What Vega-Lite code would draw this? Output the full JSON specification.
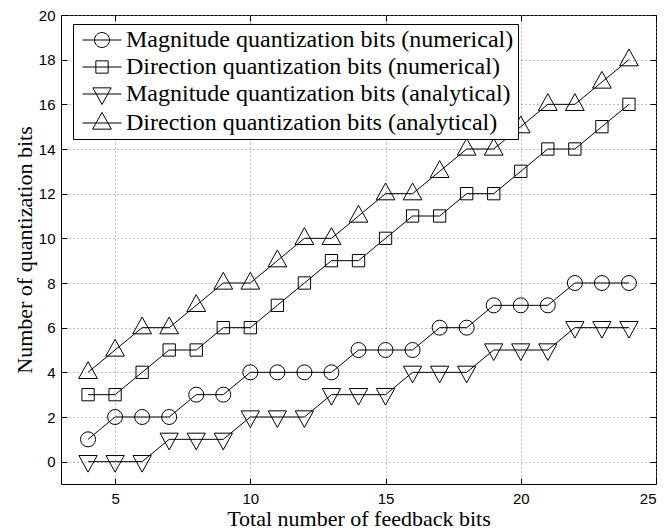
{
  "$schema": "https://vega.github.io/schema/vega-lite/v6.json",
  "width": 595,
  "height": 469,
  "autosize": {"type": "none"},
  "padding": {"left": 61, "top": 15, "right": 11, "bottom": 45},
  "background": "white",
  "data": {
    "values": [
      {"x": 4, "y": 1, "series": "Magnitude quantization bits (numerical)"},
      {"x": 5, "y": 2, "series": "Magnitude quantization bits (numerical)"},
      {"x": 6, "y": 2, "series": "Magnitude quantization bits (numerical)"},
      {"x": 7, "y": 2, "series": "Magnitude quantization bits (numerical)"},
      {"x": 8, "y": 3, "series": "Magnitude quantization bits (numerical)"},
      {"x": 9, "y": 3, "series": "Magnitude quantization bits (numerical)"},
      {"x": 10, "y": 4, "series": "Magnitude quantization bits (numerical)"},
      {"x": 11, "y": 4, "series": "Magnitude quantization bits (numerical)"},
      {"x": 12, "y": 4, "series": "Magnitude quantization bits (numerical)"},
      {"x": 13, "y": 4, "series": "Magnitude quantization bits (numerical)"},
      {"x": 14, "y": 5, "series": "Magnitude quantization bits (numerical)"},
      {"x": 15, "y": 5, "series": "Magnitude quantization bits (numerical)"},
      {"x": 16, "y": 5, "series": "Magnitude quantization bits (numerical)"},
      {"x": 17, "y": 6, "series": "Magnitude quantization bits (numerical)"},
      {"x": 18, "y": 6, "series": "Magnitude quantization bits (numerical)"},
      {"x": 19, "y": 7, "series": "Magnitude quantization bits (numerical)"},
      {"x": 20, "y": 7, "series": "Magnitude quantization bits (numerical)"},
      {"x": 21, "y": 7, "series": "Magnitude quantization bits (numerical)"},
      {"x": 22, "y": 8, "series": "Magnitude quantization bits (numerical)"},
      {"x": 23, "y": 8, "series": "Magnitude quantization bits (numerical)"},
      {"x": 24, "y": 8, "series": "Magnitude quantization bits (numerical)"},
      {"x": 4, "y": 3, "series": "Direction quantization bits (numerical)"},
      {"x": 5, "y": 3, "series": "Direction quantization bits (numerical)"},
      {"x": 6, "y": 4, "series": "Direction quantization bits (numerical)"},
      {"x": 7, "y": 5, "series": "Direction quantization bits (numerical)"},
      {"x": 8, "y": 5, "series": "Direction quantization bits (numerical)"},
      {"x": 9, "y": 6, "series": "Direction quantization bits (numerical)"},
      {"x": 10, "y": 6, "series": "Direction quantization bits (numerical)"},
      {"x": 11, "y": 7, "series": "Direction quantization bits (numerical)"},
      {"x": 12, "y": 8, "series": "Direction quantization bits (numerical)"},
      {"x": 13, "y": 9, "series": "Direction quantization bits (numerical)"},
      {"x": 14, "y": 9, "series": "Direction quantization bits (numerical)"},
      {"x": 15, "y": 10, "series": "Direction quantization bits (numerical)"},
      {"x": 16, "y": 11, "series": "Direction quantization bits (numerical)"},
      {"x": 17, "y": 11, "series": "Direction quantization bits (numerical)"},
      {"x": 18, "y": 12, "series": "Direction quantization bits (numerical)"},
      {"x": 19, "y": 12, "series": "Direction quantization bits (numerical)"},
      {"x": 20, "y": 13, "series": "Direction quantization bits (numerical)"},
      {"x": 21, "y": 14, "series": "Direction quantization bits (numerical)"},
      {"x": 22, "y": 14, "series": "Direction quantization bits (numerical)"},
      {"x": 23, "y": 15, "series": "Direction quantization bits (numerical)"},
      {"x": 24, "y": 16, "series": "Direction quantization bits (numerical)"},
      {"x": 4, "y": 0, "series": "Magnitude quantization bits (analytical)"},
      {"x": 5, "y": 0, "series": "Magnitude quantization bits (analytical)"},
      {"x": 6, "y": 0, "series": "Magnitude quantization bits (analytical)"},
      {"x": 7, "y": 1, "series": "Magnitude quantization bits (analytical)"},
      {"x": 8, "y": 1, "series": "Magnitude quantization bits (analytical)"},
      {"x": 9, "y": 1, "series": "Magnitude quantization bits (analytical)"},
      {"x": 10, "y": 2, "series": "Magnitude quantization bits (analytical)"},
      {"x": 11, "y": 2, "series": "Magnitude quantization bits (analytical)"},
      {"x": 12, "y": 2, "series": "Magnitude quantization bits (analytical)"},
      {"x": 13, "y": 3, "series": "Magnitude quantization bits (analytical)"},
      {"x": 14, "y": 3, "series": "Magnitude quantization bits (analytical)"},
      {"x": 15, "y": 3, "series": "Magnitude quantization bits (analytical)"},
      {"x": 16, "y": 4, "series": "Magnitude quantization bits (analytical)"},
      {"x": 17, "y": 4, "series": "Magnitude quantization bits (analytical)"},
      {"x": 18, "y": 4, "series": "Magnitude quantization bits (analytical)"},
      {"x": 19, "y": 5, "series": "Magnitude quantization bits (analytical)"},
      {"x": 20, "y": 5, "series": "Magnitude quantization bits (analytical)"},
      {"x": 21, "y": 5, "series": "Magnitude quantization bits (analytical)"},
      {"x": 22, "y": 6, "series": "Magnitude quantization bits (analytical)"},
      {"x": 23, "y": 6, "series": "Magnitude quantization bits (analytical)"},
      {"x": 24, "y": 6, "series": "Magnitude quantization bits (analytical)"},
      {"x": 4, "y": 4, "series": "Direction quantization bits (analytical)"},
      {"x": 5, "y": 5, "series": "Direction quantization bits (analytical)"},
      {"x": 6, "y": 6, "series": "Direction quantization bits (analytical)"},
      {"x": 7, "y": 6, "series": "Direction quantization bits (analytical)"},
      {"x": 8, "y": 7, "series": "Direction quantization bits (analytical)"},
      {"x": 9, "y": 8, "series": "Direction quantization bits (analytical)"},
      {"x": 10, "y": 8, "series": "Direction quantization bits (analytical)"},
      {"x": 11, "y": 9, "series": "Direction quantization bits (analytical)"},
      {"x": 12, "y": 10, "series": "Direction quantization bits (analytical)"},
      {"x": 13, "y": 10, "series": "Direction quantization bits (analytical)"},
      {"x": 14, "y": 11, "series": "Direction quantization bits (analytical)"},
      {"x": 15, "y": 12, "series": "Direction quantization bits (analytical)"},
      {"x": 16, "y": 12, "series": "Direction quantization bits (analytical)"},
      {"x": 17, "y": 13, "series": "Direction quantization bits (analytical)"},
      {"x": 18, "y": 14, "series": "Direction quantization bits (analytical)"},
      {"x": 19, "y": 14, "series": "Direction quantization bits (analytical)"},
      {"x": 20, "y": 15, "series": "Direction quantization bits (analytical)"},
      {"x": 21, "y": 16, "series": "Direction quantization bits (analytical)"},
      {"x": 22, "y": 16, "series": "Direction quantization bits (analytical)"},
      {"x": 23, "y": 17, "series": "Direction quantization bits (analytical)"},
      {"x": 24, "y": 18, "series": "Direction quantization bits (analytical)"}
    ]
  },
  "layer": [
    {
      "mark": {"type": "line", "color": "black", "strokeWidth": 1},
      "encoding": {
        "x": {"field": "x", "type": "quantitative", "scale": {"domain": [3, 25], "nice": false, "zero": false},
          "axis": {"orient": "bottom", "values": [5, 10, 15, 20, 25], "grid": true, "title": "Total number of feedback bits"}},
        "y": {"field": "y", "type": "quantitative", "scale": {"domain": [-1, 20], "nice": false, "zero": false},
          "axis": {"orient": "left", "values": [0, 2, 4, 6, 8, 10, 12, 14, 16, 18, 20], "grid": true, "title": "Number of quantization bits"}},
        "detail": {"field": "series", "type": "nominal"}
      }
    },
    {
      "mark": {"type": "point", "filled": false, "color": "black", "strokeWidth": 1, "size": 225, "opacity": 1},
      "encoding": {
        "x": {"field": "x", "type": "quantitative",
          "axis": {"orient": "top", "values": [5, 10, 15, 20, 25], "grid": false, "labels": false, "title": null}},
        "y": {"field": "y", "type": "quantitative",
          "axis": {"orient": "right", "values": [0, 2, 4, 6, 8, 10, 12, 14, 16, 18, 20], "grid": false, "labels": false, "title": null}},
        "shape": {
          "field": "series", "type": "nominal",
          "scale": {
            "domain": ["Magnitude quantization bits (numerical)", "Direction quantization bits (numerical)", "Magnitude quantization bits (analytical)", "Direction quantization bits (analytical)"],
            "range": ["circle", "M-0.82,-0.82L0.82,-0.82L0.82,0.82L-0.82,0.82Z", "M-1.22,-0.82L1.22,-0.82L0,1.4Z", "M0,-1.42L-1.25,0.82L1.25,0.82Z"]
          },
          "legend": null
        }
      }
    },
    {
      "transform": [{"filter": "datum.x < 0"}],
      "mark": {"type": "point", "filled": false, "color": "black", "strokeWidth": 1, "size": 225, "opacity": 1},
      "encoding": {
        "x": {"field": "x", "type": "quantitative", "axis": null},
        "y": {"field": "y", "type": "quantitative", "axis": null},
        "shape": {
          "field": "series", "type": "nominal",
          "scale": {
            "domain": ["Magnitude quantization bits (numerical)", "Direction quantization bits (numerical)", "Magnitude quantization bits (analytical)", "Direction quantization bits (analytical)"],
            "range": [
              "M-2.6,0L2.6,0M1,0A1,1,0,1,1,-1,0A1,1,0,1,1,1,0",
              "M-2.6,0L2.6,0M-0.82,-0.82L0.82,-0.82L0.82,0.82L-0.82,0.82Z",
              "M-2.6,0L2.6,0M-1.22,-0.82L1.22,-0.82L0,1.4Z",
              "M-2.6,0L2.6,0M0,-1.42L-1.25,0.82L1.25,0.82Z"
            ]
          },
          "legend": {
            "orient": "none", "legendX": 12, "legendY": 9, "title": null, "direction": "vertical",
            "labelFont": "Liberation Serif", "labelFontSize": 24, "labelLimit": 0, "labelColor": "black",
            "symbolSize": 225, "symbolStrokeWidth": 1, "symbolOffset": 13, "labelOffset": 12,
            "rowPadding": 3, "padding": 4, "strokeColor": "black", "fillColor": "white",
            "symbolStrokeColor": "black", "symbolFillColor": "transparent", "symbolOpacity": 1
          }
        }
      }
    }
  ],
  "resolve": {"axis": {"x": "independent", "y": "independent"}, "scale": {"shape": "independent"}},
  "config": {
    "view": {"stroke": "black", "strokeWidth": 1},
    "axis": {
      "labelFont": "Liberation Sans", "labelFontSize": 15, "labelColor": "black",
      "titleFont": "Liberation Serif", "titleFontSize": 22, "titleFontWeight": "normal", "titleColor": "black",
      "tickColor": "black", "tickSize": -6, "tickWidth": 1, "domain": false,
      "gridColor": "#808080", "gridDash": [1, 3], "gridWidth": 1, "gridOpacity": 1
    },
    "axisX": {"labelPadding": 13, "titlePadding": 2},
    "axisY": {"labelPadding": 12, "titlePadding": 2}
  }
}
